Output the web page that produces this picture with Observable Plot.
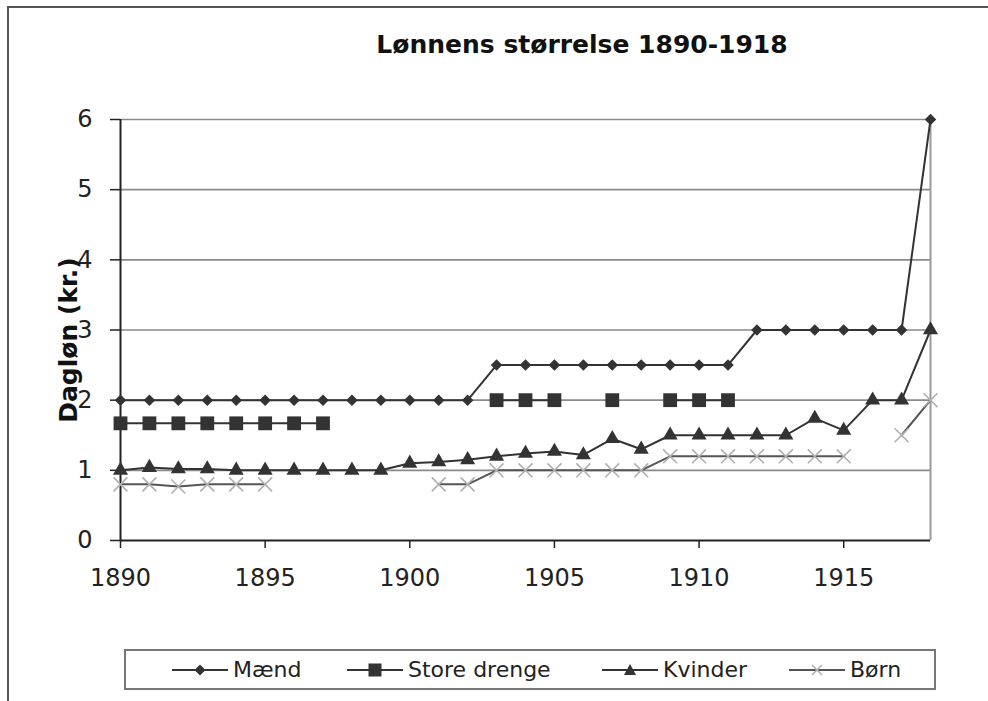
<!DOCTYPE html>
<html>
<head>
<meta charset="utf-8">
<script src="https://cdn.jsdelivr.net/npm/d3@7"></script>
<script src="https://cdn.jsdelivr.net/npm/@observablehq/plot@0.6"></script>
<style>
  html, body { margin: 0; padding: 0; background: #fff; }
  #wrap { position: relative; width: 988px; height: 701px; background: #fff; font-family: "DejaVu Sans", Verdana, sans-serif; overflow: hidden; }
  #frame { position: absolute; left: 7px; top: 6px; width: 1000px; height: 720px; border-top: 2px solid #555; border-left: 2px solid #555; box-sizing: border-box; }
  #title { position: absolute; left: 0; width: 1164px; top: 30px; text-align: center; font-weight: bold; font-size: 25px; color: #111; white-space: nowrap; }
  #ylabel { position: absolute; left: 68px; top: 340px; transform: translate(-50%, -50%) rotate(-90deg); font-weight: bold; font-size: 25px; color: #111; white-space: nowrap; }
  #chart { position: absolute; left: 0; top: 90px; }
  #legend { position: absolute; left: 124px; top: 649px; width: 812px; height: 41px; border: 2px solid #777; box-sizing: border-box; }
  .item { position: absolute; top: 0; height: 37px; display: flex; align-items: center; font-size: 22px; color: #222; white-space: nowrap; }
  .item svg { margin-right: 5px; }
</style>
</head>
<body>
<div id="wrap">
  <div id="frame"></div>
  <div id="title">Lønnens størrelse 1890-1918</div>
  <div id="chart"></div>
  <div id="ylabel">Dagløn (kr.)</div>
  <div id="legend"></div>
</div>
<script>
const years = [1890,1891,1892,1893,1894,1895,1896,1897,1898,1899,1900,1901,1902,1903,1904,1905,1906,1907,1908,1909,1910,1911,1912,1913,1914,1915,1916,1917,1918];
const maend = [2,2,2,2,2,2,2,2,2,2,2,2,2,2.5,2.5,2.5,2.5,2.5,2.5,2.5,2.5,2.5,3,3,3,3,3,3,6];
const storeDrenge = [1.67,1.67,1.67,1.67,1.67,1.67,1.67,1.67,null,null,null,null,null,2,2,2,null,2,null,2,2,2,null,null,null,null,null,null,null];
const kvinder = [1.0,1.04,1.02,1.02,1.0,1.0,1.0,1.0,1.0,1.0,1.1,1.12,1.15,1.2,1.24,1.27,1.22,1.45,1.3,1.5,1.5,1.5,1.5,1.5,1.74,1.57,2,2,3];
const boern = [0.8,0.8,0.77,0.8,0.8,0.8,null,null,null,null,null,0.8,0.8,1,1,1,1,1,1,1.2,1.2,1.2,1.2,1.2,1.2,1.2,null,1.5,2];
const seriesNames = ["Mænd","Store drenge","Kvinder","Børn"];
const xTicks = [1890,1895,1900,1905,1910,1915];
const yTicks = [0,1,2,3,4,5,6];

const diamond = {
  draw(context, size) {
    const h = Math.sqrt(size / 2);
    context.moveTo(0, -h);
    context.lineTo(h, 0);
    context.lineTo(0, h);
    context.lineTo(-h, 0);
    context.closePath();
  }
};

const table = vals => years.map((year, i) => ({year, v: vals[i]}));
const dM = table(maend), dS = table(storeDrenge), dK = table(kvinder), dB = table(boern);

const chart = Plot.plot({
  width: 988,
  height: 500,
  marginLeft: 120,
  marginRight: 58,
  marginTop: 29,
  marginBottom: 50,
  style: {fontFamily: "DejaVu Sans, Verdana, sans-serif", color: "#222", background: "transparent", overflow: "visible"},
  x: {type: "linear", domain: [1890, 1918]},
  y: {domain: [0, 6]},
  marks: [
    Plot.gridY(yTicks.filter(d => d > 0), {stroke: "#8a8a8a", strokeOpacity: 1, strokeWidth: 1.6}),
    Plot.ruleX([1918], {stroke: "#9a9a9a", strokeWidth: 2}),
    Plot.axisX({ticks: xTicks, tickSize: 8, tickPadding: 20, tickFormat: d => String(d), fontSize: 24, label: null, strokeWidth: 1.5}),
    Plot.axisY({ticks: yTicks, tickSize: 10, tickPadding: 18, tickFormat: d => String(d), fontSize: 24, label: null, strokeWidth: 1.5}),
    Plot.ruleY([0], {stroke: "#222", strokeWidth: 2}),
    Plot.ruleX([1890], {stroke: "#222", strokeWidth: 2}),
    Plot.line(dB, {x: "year", y: "v", stroke: "#555", strokeWidth: 2}),
    Plot.dot(dB, {x: "year", y: "v", symbol: "times", r: 6.4, stroke: "#b0b0b0", strokeWidth: 1.6}),
    Plot.line(dK, {x: "year", y: "v", stroke: "#333", strokeWidth: 2}),
    Plot.dot(dK, {x: "year", y: "v", symbol: "triangle", r: 5.6, fill: "#333", stroke: "none"}),
    Plot.line(dS, {x: "year", y: "v", stroke: "#333", strokeWidth: 2}),
    Plot.dot(dS, {x: "year", y: "v", symbol: "square", r: 7.8, fill: "#333", stroke: "none"}),
    Plot.line(dM, {x: "year", y: "v", stroke: "#333", strokeWidth: 2}),
    Plot.dot(dM, {x: "year", y: "v", symbol: diamond, r: 4.6, fill: "#333", stroke: "none"})
  ]
});
document.getElementById("chart").appendChild(chart);

// Legend
const legendLefts = [46, 221, 476, 663];
const legend = document.getElementById("legend");
const sw = (marker, lineColor) => `<svg width="56" height="20" viewBox="0 0 56 20"><line x1="0" y1="10" x2="56" y2="10" stroke="${lineColor}" stroke-width="2"/>${marker}</svg>`;
const markers = [
  sw(`<path d="M28,4.5L33.5,10L28,15.5L22.5,10Z" fill="#333"/>`, "#333"),
  sw(`<rect x="21.5" y="3.5" width="13" height="13" fill="#333"/>`, "#333"),
  sw(`<path d="M28,4L34,15L22,15Z" fill="#333"/>`, "#333"),
  sw(`<path d="M23,5L33,15M33,5L23,15" stroke="#b0b0b0" stroke-width="1.6"/>`, "#555")
];
seriesNames.forEach((name, i) => {
  const el = document.createElement("div");
  el.className = "item";
  el.style.left = legendLefts[i] + "px";
  el.innerHTML = markers[i] + `<span>${name}</span>`;
  legend.appendChild(el);
});
</script>
</body>
</html>
